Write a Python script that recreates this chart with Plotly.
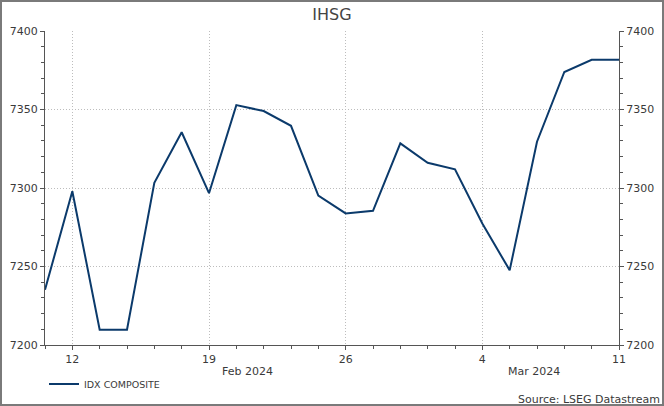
import plotly.graph_objects as go

# Trading days (weekends excluded) and IDX Composite values
dates = ["2024-02-09", "2024-02-12", "2024-02-13", "2024-02-14", "2024-02-15", "2024-02-16",
         "2024-02-19", "2024-02-20", "2024-02-21", "2024-02-22", "2024-02-23",
         "2024-02-26", "2024-02-27", "2024-02-28", "2024-02-29", "2024-03-01",
         "2024-03-04", "2024-03-05", "2024-03-06", "2024-03-07", "2024-03-08",
         "2024-03-11"]
values = [7235.2, 7297.9, 7209.7, 7209.7, 7303.3, 7335.5,
          7296.7, 7352.8, 7349.0, 7339.6, 7295.1,
          7283.8, 7285.5, 7328.4, 7316.1, 7311.9,
          7277.4, 7247.6, 7329.5, 7373.9, 7381.7,
          7381.7]
tick_dates = ["2024-02-12", "2024-02-19", "2024-02-26", "2024-03-04", "2024-03-11"]
tick_labels = ["12", "19", "26", "4", "11"]
month_labels = ["Feb 2024", "Mar 2024"]
month_pos = [7.4, 17.9]  # label centres, in trading-day index units
series_name = "IDX COMPOSITE"

W, H = 664, 406
ML, MR, MT, MB = 45, 45, 31, 61
PW = W - ML - MR
PH = H - MT - MB

idx = list(range(len(dates)))
tickvals = [dates.index(d) for d in tick_dates]

LINE = "#0b3a6b"
TXT = "#3a3a3a"
FONT = "DejaVu Sans, Verdana, sans-serif"
GRID = "#bdbdbd"

fig = go.Figure()
fig.add_trace(go.Scatter(x=idx, y=values, mode="lines", name=series_name,
                         line=dict(color=LINE, width=2), hoverinfo="skip"))
fig.add_trace(go.Scatter(x=idx, y=values, mode="lines", yaxis="y2", showlegend=False,
                         line=dict(color="rgba(0,0,0,0)", width=0), hoverinfo="skip"))

yax = dict(range=[7200, 7400], dtick=50, tick0=7200, ticks="outside", ticklen=4,
           tickcolor="#555", showline=True, linecolor="#555", linewidth=1,
           showgrid=True, gridcolor=GRID, griddash="1px,2px", gridwidth=1,
           zeroline=False, tickfont=dict(family=FONT, size=11, color=TXT),
           minor=dict(dtick=10, tick0=7200, ticks="outside", ticklen=3, tickcolor="#555", showgrid=False))

fig.update_layout(
    width=W, height=H,
    margin=dict(l=ML, r=MR, t=MT, b=MB, autoexpand=False),
    paper_bgcolor="white", plot_bgcolor="white",
    font=dict(family=FONT, size=11, color=TXT),
    title=dict(text="IHSG", x=0.5, xanchor="center", y=1 - 14 / H, yanchor="middle",
               font=dict(family=FONT, size=16, color="#444")),
    xaxis=dict(range=[0, len(dates) - 1], tickvals=tickvals, ticktext=tick_labels,
               ticks="outside", ticklen=4, tickcolor="#555", showline=True,
               linecolor="#555", linewidth=1, showgrid=True, gridcolor=GRID,
               griddash="1px,2px", zeroline=False, tickfont=dict(family=FONT, size=11, color=TXT),
               minor=dict(dtick=1, tick0=0, ticks="outside", ticklen=3, tickcolor="#555", showgrid=False)),
    yaxis=yax,
    yaxis2=dict(yax, overlaying="y", side="right", showgrid=False),
    showlegend=True,
    legend=dict(x=(44 - ML) / PW, xanchor="left", y=-(384 - MT - PH) / PH, yanchor="middle",
                orientation="h", font=dict(family=FONT, size=9.5, color=TXT),
                bgcolor="rgba(0,0,0,0)", itemwidth=30),
)

for lab, xp in zip(month_labels, month_pos):
    fig.add_annotation(x=xp, y=-(371 - MT - PH) / PH,
                       xref="x", yref="paper", text=lab, showarrow=False,
                       font=dict(family=FONT, size=11, color=TXT), yanchor="middle")

fig.add_annotation(x=(662 - ML) / PW, y=-(399 - MT - PH) / PH, xref="paper", yref="paper",
                   text="Source: LSEG Datastream", showarrow=False, xanchor="right",
                   yanchor="middle", font=dict(family=FONT, size=11, color=TXT))

post = ("document.body.style.margin='0';"
        "var f=document.createElement('div');"
        "f.style.cssText='position:fixed;left:0;top:0;width:664px;height:406px;"
        "box-sizing:border-box;border:2px solid #7a7a7a;pointer-events:none;z-index:1000;';"
        "document.body.appendChild(f);")

fig.write_html("out.html", post_script=post, config={"displayModeBar": False, "staticPlot": True})
